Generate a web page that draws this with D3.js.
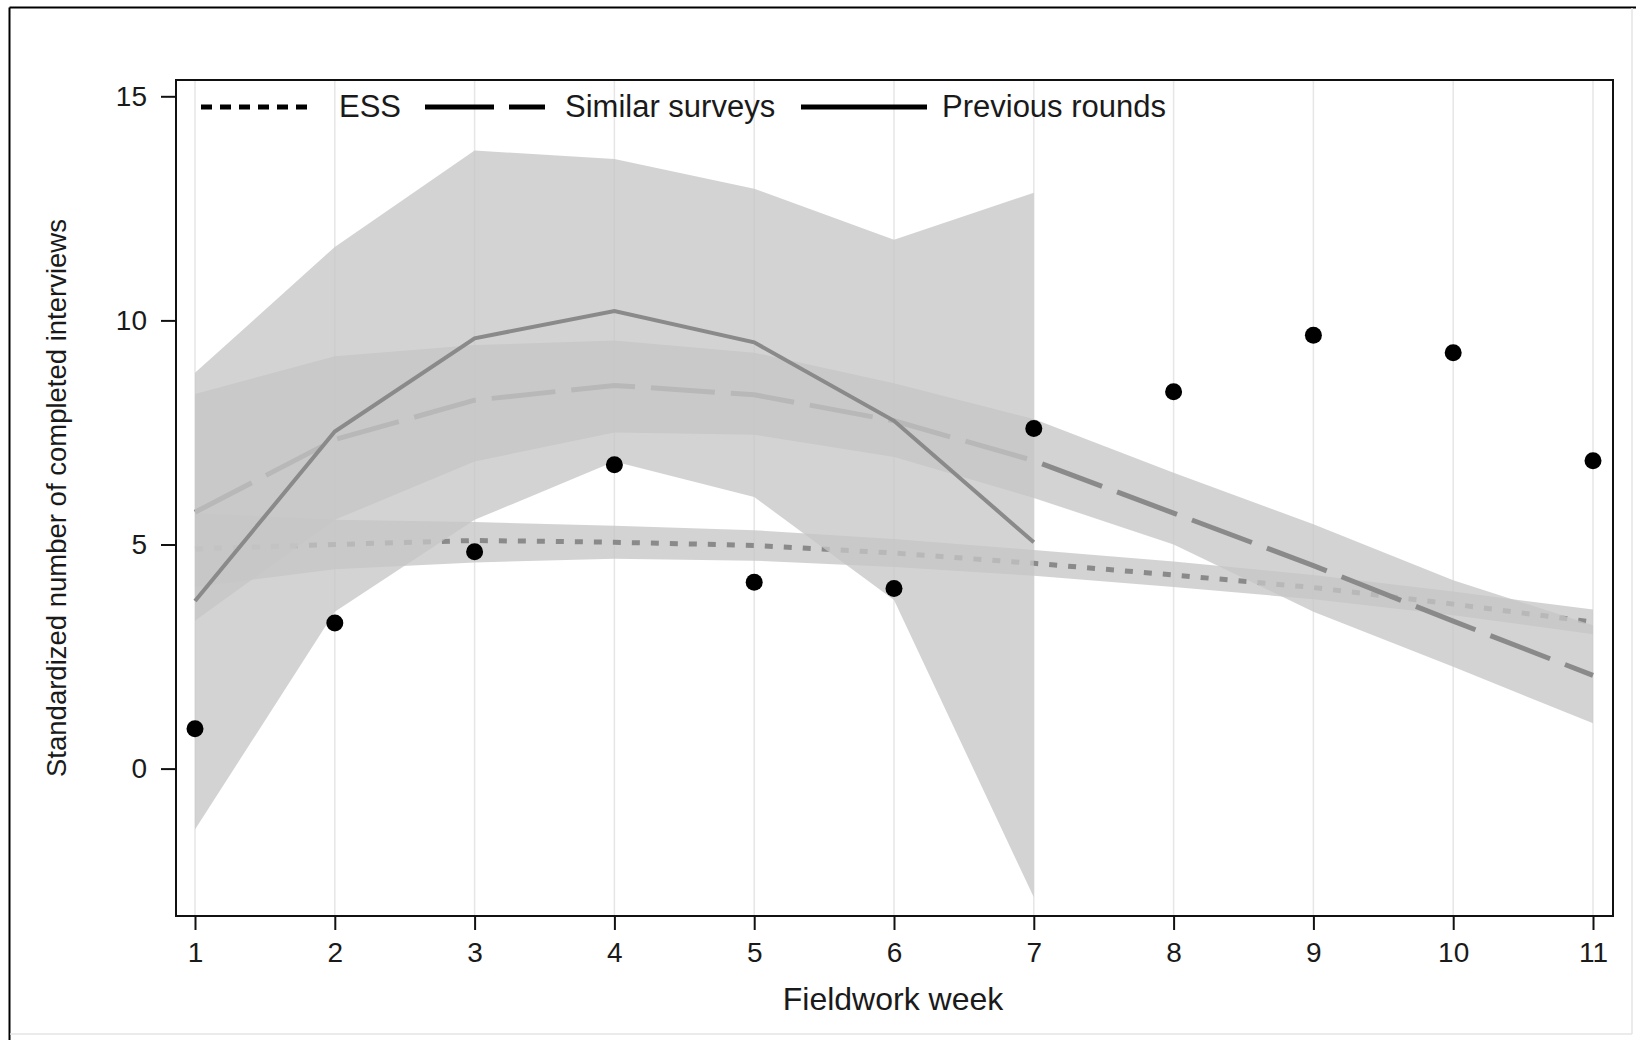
<!DOCTYPE html>
<html>
<head>
<meta charset="utf-8">
<script src="https://cdn.jsdelivr.net/npm/d3@7"></script>
<style>
  html, body { margin: 0; padding: 0; background: #fff; }
  svg { display: block; }
  text { font-family: "Liberation Sans", Arial, sans-serif; fill: #1a1a1a; }
</style>
</head>
<body>
<svg id="chart" width="1642" height="1040"></svg>
<script>
// ---- data ----
const weeks = [1, 2, 3, 4, 5, 6, 7, 8, 9, 10, 11];
const observed = [0.89, 3.25, 4.84, 6.78, 4.16, 4.02, 7.59, 8.41, 9.67, 9.28, 6.87];

const essFit   = [4.90, 5.00, 5.09, 5.05, 4.98, 4.81, 4.58, 4.32, 4.04, 3.67, 3.27];
const essLower = [4.05, 4.45, 4.60, 4.68, 4.64, 4.50, 4.30, 4.05, 3.78, 3.42, 3.00];
const essUpper = [5.70, 5.55, 5.50, 5.42, 5.32, 5.12, 4.88, 4.62, 4.32, 3.95, 3.55];

const similarFit   = [5.72, 7.34, 8.22, 8.55, 8.34, 7.76, 6.87, 5.70, 4.53, 3.29, 2.08];
const similarLower = [3.30, 5.55, 6.85, 7.50, 7.45, 6.95, 6.04, 5.00, 3.50, 2.27, 1.01];
const similarUpper = [8.36, 9.20, 9.45, 9.55, 9.28, 8.60, 7.80, 6.60, 5.45, 4.20, 3.20];

const prevWeeks = [1, 2, 3, 4, 5, 6, 7];
const prevFit   = [3.74, 7.52, 9.60, 10.21, 9.51, 7.76, 5.05];
const prevLower = [-1.36, 3.50, 5.55, 6.85, 6.06, 3.76, -2.87];
const prevUpper = [8.83, 11.64, 13.79, 13.60, 12.94, 11.80, 12.85];

const yTicks = [0, 5, 10, 15];
const legendLabels = ["ESS", "Similar surveys", "Previous rounds"];
const xTitle = "Fieldwork week";
const yTitle = "Standardized number of completed interviews";

// ---- layout ----
const svg = d3.select("#chart");
const plot = { left: 176, right: 1613, top: 80, bottom: 916 };
const x = d3.scaleLinear().domain([1, 11]).range([195, 1593]);
const y = d3.scaleLinear().domain([0, 15]).range([768.6, 96.3]);

// outer frame
svg.append("line").attr("x1", 9.5).attr("y1", 7.5).attr("x2", 1636).attr("y2", 7.5)
  .attr("stroke", "#000").attr("stroke-width", 2);
svg.append("line").attr("x1", 9.5).attr("y1", 7.5).attr("x2", 9.5).attr("y2", 1040)
  .attr("stroke", "#000").attr("stroke-width", 2);
svg.append("line").attr("x1", 1632).attr("y1", 8).attr("x2", 1632).attr("y2", 1034)
  .attr("stroke", "#e4e4e4").attr("stroke-width", 1.5);
svg.append("line").attr("x1", 10).attr("y1", 1034).attr("x2", 1632).attr("y2", 1034)
  .attr("stroke", "#e4e4e4").attr("stroke-width", 1.5);

// clip
svg.append("clipPath").attr("id", "clip").append("rect")
  .attr("x", plot.left).attr("y", plot.top)
  .attr("width", plot.right - plot.left).attr("height", plot.bottom - plot.top);

// grid
svg.append("g").selectAll("line").data(weeks).join("line")
  .attr("x1", d => x(d)).attr("x2", d => x(d))
  .attr("y1", plot.top).attr("y2", plot.bottom)
  .attr("stroke", "#e6e6e6").attr("stroke-width", 1.5);

const g = svg.append("g").attr("clip-path", "url(#clip)");

const bandFill = "#c6c6c6", bandOpacity = 0.77, lineColor = "#8a8a8a";

function band(ws, lo, hi) {
  const data = ws.map((w, i) => ({ w, lo: lo[i], hi: hi[i] }));
  g.append("path").datum(data)
    .attr("d", d3.area().x(d => x(d.w)).y0(d => y(d.lo)).y1(d => y(d.hi)))
    .attr("fill", bandFill).attr("fill-opacity", bandOpacity);
}
function fitLine(ws, vals, dash, width) {
  const data = ws.map((w, i) => ({ w, v: vals[i] }));
  g.append("path").datum(data)
    .attr("d", d3.line().x(d => x(d.w)).y(d => y(d.v)))
    .attr("fill", "none").attr("stroke", lineColor)
    .attr("stroke-width", width)
    .attr("stroke-dasharray", dash);
}

// ESS
band(weeks, essLower, essUpper);
fitLine(weeks, essFit, "8,11", 5);
// Similar surveys
band(weeks, similarLower, similarUpper);
fitLine(weeks, similarFit, "64,16", 5);
// Previous rounds
band(prevWeeks, prevLower, prevUpper);
fitLine(prevWeeks, prevFit, null, 4);

// observed points
g.append("g").selectAll("circle").data(weeks).join("circle")
  .attr("cx", d => x(d)).attr("cy", (d, i) => y(observed[i]))
  .attr("r", 8.5).attr("fill", "#000");

// frame
svg.append("rect").attr("x", plot.left).attr("y", plot.top)
  .attr("width", plot.right - plot.left).attr("height", plot.bottom - plot.top)
  .attr("fill", "none").attr("stroke", "#111").attr("stroke-width", 2);

// y axis
const yAxis = svg.append("g").attr("transform", `translate(${plot.left},0)`)
  .call(d3.axisLeft(y).tickValues(yTicks).tickSize(15).tickPadding(14).tickFormat(d3.format("d")));
yAxis.select(".domain").remove();
yAxis.selectAll("line").attr("stroke", "#111").attr("stroke-width", 2);
yAxis.selectAll("text").attr("font-size", 28).attr("fill", "#1a1a1a")
  .style("font-family", '"Liberation Sans", Arial, sans-serif');

// x axis
const xAxis = svg.append("g").attr("transform", `translate(0,${plot.bottom})`)
  .call(d3.axisBottom(x).tickValues(weeks).tickSize(14).tickPadding(12).tickFormat(d3.format("d")));
xAxis.select(".domain").remove();
xAxis.selectAll("line").attr("stroke", "#111").attr("stroke-width", 2);
xAxis.selectAll("text").attr("font-size", 28).attr("fill", "#1a1a1a")
  .style("font-family", '"Liberation Sans", Arial, sans-serif');

// titles
svg.append("text").attr("x", 893).attr("y", 1010).attr("text-anchor", "middle")
  .attr("font-size", 32).text(xTitle);
svg.append("text").attr("transform", "translate(66,498) rotate(-90)")
  .attr("text-anchor", "middle").attr("font-size", 27.5).text(yTitle);

// legend
const legendItems = [
  { label: legendLabels[0], x1: 201, x2: 314, tx: 339, dash: "11,8" },
  { label: legendLabels[1], x1: 425, x2: 545, tx: 565, dash: "69,15" },
  { label: legendLabels[2], x1: 801, x2: 927, tx: 942, dash: null }
];
const lg = svg.append("g");
legendItems.forEach(it => {
  lg.append("line").attr("x1", it.x1).attr("x2", it.x2).attr("y1", 107).attr("y2", 107)
    .attr("stroke", "#000").attr("stroke-width", 5).attr("stroke-dasharray", it.dash);
  lg.append("text").attr("x", it.tx).attr("y", 117).attr("font-size", 31).text(it.label);
});
</script>
</body>
</html>
